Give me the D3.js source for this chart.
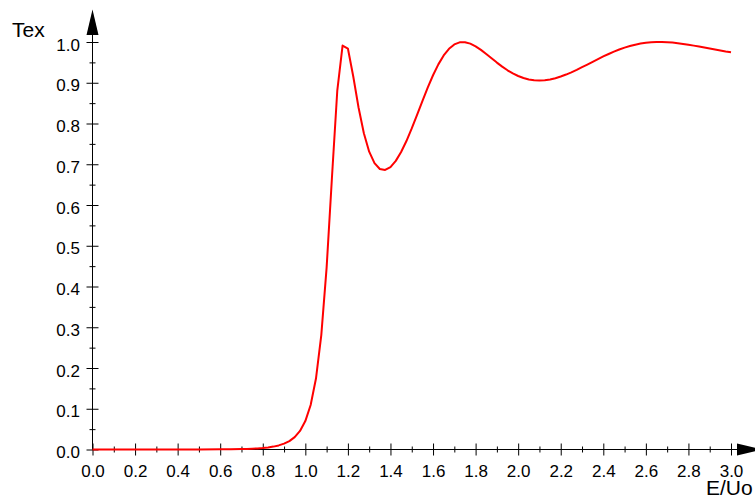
<!DOCTYPE html>
<html>
<head>
<meta charset="utf-8">
<script src="https://cdn.jsdelivr.net/npm/d3@7"></script>
<style>
  html, body { margin: 0; padding: 0; background: #fff; }
  svg { display: block; }
</style>
</head>
<body>
<svg id="chart" width="755" height="500"></svg>
<script>
// Energy ratio E/Uo and the transmission coefficient Tex at each energy
const energyRatio = [
  0, 0.1, 0.2, 0.3, 0.4, 0.5, 0.6, 0.65, 0.7, 0.725, 0.75, 0.775, 0.8, 0.825, 0.85, 0.875,
  0.9, 0.925, 0.95, 0.975, 1.0, 1.025, 1.05, 1.075, 1.1, 1.125, 1.15, 1.175, 1.2, 1.225,
  1.25, 1.275, 1.3, 1.325, 1.35, 1.375, 1.4, 1.425, 1.45, 1.475, 1.5, 1.525, 1.55, 1.575,
  1.6, 1.625, 1.65, 1.675, 1.7, 1.725, 1.75, 1.775, 1.8, 1.825, 1.85, 1.875, 1.9, 1.925,
  1.95, 1.975, 2.0, 2.025, 2.05, 2.075, 2.1, 2.125, 2.15, 2.175, 2.2, 2.225, 2.25, 2.275,
  2.3, 2.325, 2.35, 2.375, 2.4, 2.425, 2.45, 2.475, 2.5, 2.525, 2.55, 2.575, 2.6, 2.625,
  2.65, 2.675, 2.7, 2.725, 2.75, 2.775, 2.8, 2.825, 2.85, 2.875, 2.9, 2.925, 2.95, 2.975, 3.0
];
const transmission = [
  0, 0, 0, 0, 0.0000, 0.0001, 0.0004, 0.0006, 0.0011, 0.0015, 0.0020, 0.0027, 0.0037, 0.0051, 0.0071, 0.0100,
  0.0143, 0.0206, 0.0303, 0.0455, 0.0697, 0.1091, 0.1741, 0.2808, 0.4462, 0.6669, 0.8798, 0.9912, 0.9839, 0.9158,
  0.8392, 0.7759, 0.7309, 0.7027, 0.6884, 0.6859, 0.6931, 0.7083, 0.7301, 0.7570, 0.7878, 0.8209, 0.8548, 0.8878,
  0.9184, 0.9451, 0.9670, 0.9833, 0.9940, 0.9992, 0.9996, 0.9960, 0.9894, 0.9806, 0.9705, 0.9599, 0.9495, 0.9396,
  0.9306, 0.9229, 0.9166, 0.9116, 0.9081, 0.9062, 0.9056, 0.9063, 0.9082, 0.9112, 0.9152, 0.9201, 0.9256, 0.9316,
  0.9381, 0.9446, 0.9514, 0.9581, 0.9645, 0.9706, 0.9763, 0.9815, 0.9862, 0.9901, 0.9934, 0.9961, 0.9980, 0.9993,
  0.9999, 0.9999, 0.9994, 0.9985, 0.9971, 0.9953, 0.9933, 0.9911, 0.9887, 0.9863, 0.9838, 0.9814, 0.9791, 0.9768, 0.9748
];

// Tick values
const xMajorTicks = [0.0, 0.2, 0.4, 0.6, 0.8, 1.0, 1.2, 1.4, 1.6, 1.8, 2.0, 2.2, 2.4, 2.6, 2.8, 3.0];
const xMinorTicks = [0.1, 0.3, 0.5, 0.7, 0.9, 1.1, 1.3, 1.5, 1.7, 1.9, 2.1, 2.3, 2.5, 2.7, 2.9];
const yMajorTicks = [0.0, 0.1, 0.2, 0.3, 0.4, 0.5, 0.6, 0.7, 0.8, 0.9, 1.0];
const yMinorTicks = [0.05, 0.15, 0.25, 0.35, 0.45, 0.55, 0.65, 0.75, 0.85, 0.95];

const xTitle = "E/Uo";
const yTitle = "Tex";

const svg = d3.select("#chart");
const FONT = "'Liberation Sans', Arial, sans-serif";

const x = d3.scaleLinear().domain([0, 3]).range([92.5, 731]);
const y = d3.scaleLinear().domain([0, 1]).range([449.5, 42]);
const x0 = x(0), y0 = y(0);

const fmt = d3.format(".1f");

// x axis: major ticks with labels, minor ticks without
const gx = svg.append("g").attr("transform", `translate(0,${y0})`);
gx.call(d3.axisBottom(x).tickValues(xMajorTicks).tickFormat(fmt).tickSizeOuter(0));
gx.select(".domain").remove();
gx.selectAll(".tick line").attr("y1", -6).attr("y2", 6).attr("stroke", "#000");
gx.selectAll(".tick text").attr("y", 27.5).attr("dy", 0)
  .attr("font-family", FONT).attr("font-size", 17).attr("fill", "#000");

const gxm = svg.append("g").attr("transform", `translate(0,${y0})`);
gxm.call(d3.axisBottom(x).tickValues(xMinorTicks).tickFormat("").tickSizeOuter(0));
gxm.select(".domain").remove();
gxm.selectAll(".tick line").attr("y1", -3).attr("y2", 3).attr("stroke", "#000");

// y axis
const gy = svg.append("g").attr("transform", `translate(${x0},0)`);
gy.call(d3.axisLeft(y).tickValues(yMajorTicks).tickFormat(fmt).tickSizeOuter(0));
gy.select(".domain").remove();
gy.selectAll(".tick line").attr("x1", -6).attr("x2", 6).attr("stroke", "#000");
gy.selectAll(".tick text").attr("x", -12.5).attr("y", 8).attr("dy", 0)
  .attr("font-family", FONT).attr("font-size", 17).attr("fill", "#000");

const gym = svg.append("g").attr("transform", `translate(${x0},0)`);
gym.call(d3.axisLeft(y).tickValues(yMinorTicks).tickFormat("").tickSizeOuter(0));
gym.select(".domain").remove();
gym.selectAll(".tick line").attr("x1", -3).attr("x2", 3).attr("stroke", "#000");

// axis lines with arrow heads
svg.append("line").attr("x1", x0).attr("y1", y0).attr("x2", 737).attr("y2", y0)
  .attr("stroke", "#000").attr("stroke-width", 1);
svg.append("path").attr("d", `M737,${y0 - 6}L762,${y0}L737,${y0 + 6}Z`).attr("fill", "#000");
svg.append("line").attr("x1", x0).attr("y1", y0).attr("x2", x0).attr("y2", 35)
  .attr("stroke", "#000").attr("stroke-width", 1);
svg.append("path").attr("d", `M${x0 - 6},35L${x0},9.5L${x0 + 6},35Z`).attr("fill", "#000");

// axis titles
svg.append("text").attr("x", 12).attr("y", 37).text(yTitle)
  .attr("font-family", FONT).attr("font-size", 21).attr("fill", "#000");
svg.append("text").attr("x", 706).attr("y", 495).text(xTitle)
  .attr("font-family", FONT).attr("font-size", 21).attr("fill", "#000");

// transmission curve
const points = energyRatio.map((e, i) => [e, transmission[i]]);
svg.append("path")
  .datum(points)
  .attr("fill", "none")
  .attr("stroke", "#ff0000")
  .attr("stroke-width", 2)
  .attr("stroke-linejoin", "round")
  .attr("d", d3.line().x(d => x(d[0])).y(d => y(d[1])));
</script>
</body>
</html>
